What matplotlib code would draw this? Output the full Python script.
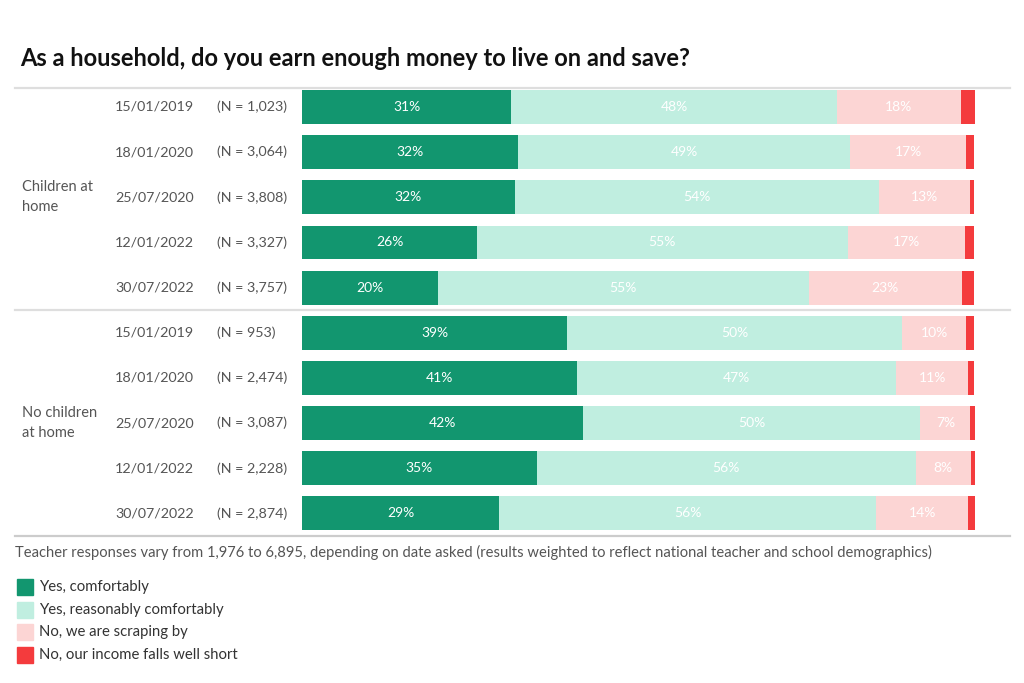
import matplotlib
matplotlib.use("Agg")
import matplotlib.pyplot as plt
import matplotlib.transforms as mtransforms
from matplotlib.patches import Rectangle
import numpy as np

plt.rcParams["font.family"] = ["Lato", "DejaVu Sans"]

# ---- data -------------------------------------------------------------------
dates = ["15/01/2019", "18/01/2020", "25/07/2020", "12/01/2022", "30/07/2022"] * 2
n_labels = ["(N = 1,023)", "(N = 3,064)", "(N = 3,808)", "(N = 3,327)", "(N = 3,757)",
            "(N = 953)", "(N = 2,474)", "(N = 3,087)", "(N = 2,228)", "(N = 2,874)"]
groups = ["Children at\nhome", "No children\nat home"]

comfortably = [31.1, 32.1, 31.6, 26.0, 20.2, 39.4, 40.9, 41.8, 34.9, 29.3]
reasonably = [48.4, 49.4, 54.2, 55.1, 55.1, 49.8, 47.4, 50.1, 56.3, 56.0]
scraping = [18.4, 17.2, 13.4, 17.4, 22.7, 9.5, 10.7, 7.4, 8.2, 13.7]
falls_short = [2.1, 1.2, 0.7, 1.3, 1.9, 1.2, 0.9, 0.7, 0.6, 1.0]

series = [comfortably, reasonably, scraping, falls_short]
series_names = ["Yes, comfortably", "Yes, reasonably comfortably",
                "No, we are scraping by", "No, our income falls well short"]
colors = ["#12966f", "#c0eee0", "#fcd5d4", "#f43b3d"]
show_label = [True, True, True, False]

W, H = 1024, 683
fig = plt.figure(figsize=(W / 100, H / 100), dpi=100)

def fx(px):
    return px / W

def fy(py):
    return 1 - py / H

ax = fig.add_axes([fx(302), fy(536), fx(975) - fx(302), fy(88) - fy(536)])
ax.set_xlim(0, 100)
ax.set_ylim(9.5, -0.42)
ax.axis("off")

y = np.arange(len(dates))
left = np.zeros(len(dates))
for vals, col, lab in zip(series, colors, show_label):
    vals = np.array(vals)
    ax.barh(y, vals, left=left, height=0.75, color=col, edgecolor="none")
    if lab:
        for yi, (l, v) in enumerate(zip(left, vals)):
            ax.text(l + v / 2, yi, f"{v:.0f}%", ha="center", va="center",
                    color="white", fontsize=10)
    left += vals

# row and group labels
tr = mtransforms.blended_transform_factory(fig.transFigure, ax.transData)
txt_col = "#555555"
for yi, (d, n) in enumerate(zip(dates, n_labels)):
    ax.text(fx(194), yi, d, transform=tr, ha="right", va="center",
            fontsize=10.3, color=txt_col)
    ax.text(fx(217), yi, n, transform=tr, ha="left", va="center",
            fontsize=10.3, color=txt_col)
for gi, g in enumerate(groups):
    ax.text(fx(22), 2 + gi * 5, g, transform=tr, ha="left", va="center",
            fontsize=10.5, color=txt_col, linespacing=1.55)

# separator lines
for yl, c in [(-0.42, "#dedede"), (4.5, "#dedede"), (9.5, "#cccccc")]:
    ax.plot([fx(15), fx(1010)], [yl, yl], transform=tr, color=c, lw=1.6,
            clip_on=False, zorder=0)

fig.text(fx(20), fy(58), "As a household, do you earn enough money to live on and save?",
         ha="left", va="center", fontsize=17, fontweight="bold", color="#111111")
fig.text(fx(15), fy(552), "Teacher responses vary from 1,976 to 6,895, depending on date asked "
         "(results weighted to reflect national teacher and school demographics)",
         ha="left", va="center", fontsize=10.6, color=txt_col)

# legend
for i, (name, col) in enumerate(zip(series_names, colors)):
    yc = 587 + i * 22.7
    fig.patches.append(Rectangle((fx(17), fy(yc + 8)), fx(16), 16 / H, color=col,
                                 transform=fig.transFigure, figure=fig))
    fig.text(fx(39), fy(yc), name, ha="left", va="center", fontsize=10.7, color="#333333")

fig.savefig("out.png", dpi=100, facecolor="white")
